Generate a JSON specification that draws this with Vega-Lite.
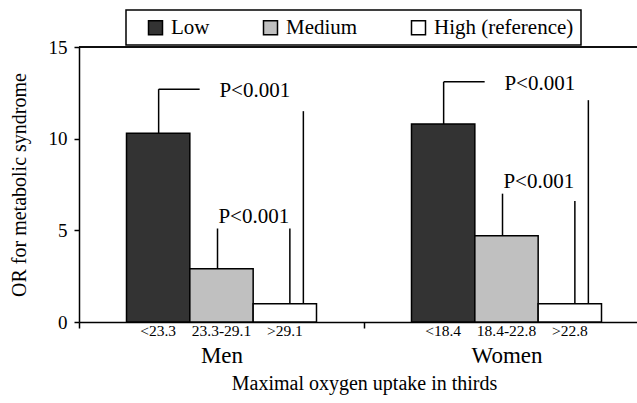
{
  "$schema": "https://vega.github.io/schema/vega-lite/v6.json",
  "width": 558,
  "height": 275,
  "autosize": {"type": "none"},
  "padding": {"left": 79, "top": 47, "right": 0, "bottom": 81},
  "background": "white",
  "config": {
    "font": "Liberation Serif",
    "view": {"stroke": null},
    "axis": {
      "domainColor": "black", "tickColor": "black", "labelColor": "black", "titleColor": "black",
      "domainWidth": 1.5, "tickWidth": 1.5, "grid": false, "titleFontWeight": "normal",
      "labelFont": "Liberation Serif", "titleFont": "Liberation Serif"
    },
    "legend": {
      "orient": "none", "legendX": 47, "legendY": -37, "direction": "horizontal",
      "titleOrient": "left", "titleFontSize": 1, "titlePadding": 12,
      "symbolType": "square", "symbolSize": 196, "symbolStrokeColor": "black", "symbolStrokeWidth": 1.5,
      "labelFont": "Liberation Serif", "labelFontSize": 21, "labelColor": "black", "labelOffset": 5,
      "columnPadding": 50, "strokeColor": "black", "strokeWidth": 1.5, "fillColor": "white", "padding": 7
    }
  },
  "datasets": {
    "bars": [
      {"sex": "Men", "level": "Low", "label": "<23.3", "or": 10.3, "upper": 12.7},
      {"sex": "Men", "level": "Medium", "label": "23.3-29.1", "or": 2.9, "upper": 5.1},
      {"sex": "Men", "level": "High", "label": ">29.1", "or": 1.0, "upper": null},
      {"sex": "Women", "level": "Low", "label": "<18.4", "or": 10.8, "upper": 13.1},
      {"sex": "Women", "level": "Medium", "label": "18.4-22.8", "or": 4.7, "upper": 7.0},
      {"sex": "Women", "level": "High", "label": ">22.8", "or": 1.0, "upper": null}
    ],
    "tests": [
      {"sex": "Men", "comparison": "Low vs High", "left": "Low", "right": "High", "left_top": 12.7, "right_top": 11.5, "ref_or": 1, "p": "P<0.001"},
      {"sex": "Men", "comparison": "Medium vs High", "left": "Medium", "right": "High", "left_top": 5.1, "right_top": 5.1, "ref_or": 1, "p": "P<0.001"},
      {"sex": "Women", "comparison": "Low vs High", "left": "Low", "right": "High", "left_top": 13.1, "right_top": 12.1, "ref_or": 1, "p": "P<0.001"},
      {"sex": "Women", "comparison": "Medium vs High", "left": "Medium", "right": "High", "left_top": 7.0, "right_top": 6.6, "ref_or": 1, "p": "P<0.001"}
    ]
  },
  "resolve": {"scale": {"xOffset": "independent"}},
  "layer": [
    {
      "data": {"name": "bars"},
      "mark": {"type": "bar", "stroke": "black", "strokeWidth": 1.5},
      "encoding": {
        "x": {
          "field": "sex", "type": "nominal",
          "scale": {"domain": ["Men", "Women"], "range": [0, 570], "paddingInner": 0, "paddingOuter": 0},
          "axis": {
            "title": "Maximal oxygen uptake in thirds", "titleFontSize": 20, "titlePadding": 6,
            "labelFontSize": 23, "labelPadding": 16, "tickSize": 6, "tickBand": "extent", "labelAngle": 0
          }
        },
        "xOffset": {
          "field": "level", "type": "nominal",
          "scale": {"type": "band", "domain": ["Low", "Medium", "High"], "paddingInner": 0, "paddingOuter": 0.75}
        },
        "y": {
          "field": "or", "type": "quantitative",
          "scale": {"domain": [0, 15], "nice": false},
          "axis": {
            "values": [0, 5, 10, 15], "tickSize": 5, "labelFontSize": 19, "labelPadding": 7,
            "title": "OR for metabolic syndrome", "titleFontSize": 20, "titlePadding": 19
          }
        },
        "fill": {
          "field": "level", "type": "nominal",
          "scale": {"domain": ["Low", "Medium", "High"], "range": ["#333333", "#c0c0c0", "#ffffff"]},
          "legend": {"title": " ", "labelExpr": "datum.label === 'High' ? 'High (reference)' : datum.label"}
        }
      }
    },
    {
      "data": {"name": "bars"},
      "transform": [{"filter": "datum.level === 'Low'"}],
      "mark": {"type": "rule", "color": "black", "strokeWidth": 1.5},
      "encoding": {
        "y": {"datum": 15, "type": "quantitative"}
      }
    },
    {
      "data": {"name": "bars"},
      "transform": [{"filter": "datum.level === 'Low'"}],
      "mark": {"type": "rule", "color": "black", "strokeWidth": 1.5},
      "encoding": {
        "x": {"field": "sex", "type": "nominal"},
        "xOffset": {"field": "level", "type": "nominal", "scale": {"type": "band", "domain": ["Low", "Medium", "High"], "paddingInner": 0, "paddingOuter": 0.75, "align": 0.505}},
        "y": {"field": "or", "type": "quantitative"},
        "y2": {"field": "upper"}
      }
    },
    {
      "data": {"name": "bars"},
      "transform": [{"filter": "datum.level === 'Medium'"}],
      "mark": {"type": "rule", "color": "black", "strokeWidth": 1.5},
      "encoding": {
        "x": {"field": "sex", "type": "nominal"},
        "xOffset": {"field": "level", "type": "nominal", "scale": {"type": "band", "domain": ["Low", "Medium", "High"], "paddingInner": 0, "paddingOuter": 0.75, "align": 0.458}},
        "y": {"field": "or", "type": "quantitative"},
        "y2": {"field": "upper"}
      }
    },
    {
      "data": {"name": "tests"},
      "transform": [{"filter": "datum.comparison === 'Low vs High'"}],
      "mark": {"type": "tick", "color": "black", "thickness": 1.5, "size": 41, "opacity": 1},
      "encoding": {
        "x": {"field": "sex", "type": "nominal"},
        "xOffset": {"field": "left", "type": "nominal", "scale": {"type": "band", "domain": ["Low", "Medium", "High"], "paddingInner": 0, "paddingOuter": 0.75, "align": 0.721}},
        "y": {"field": "left_top", "type": "quantitative"}
      }
    },
    {
      "data": {"name": "tests"},
      "transform": [{"filter": "datum.comparison === 'Low vs High'"}],
      "mark": {"type": "rule", "color": "black", "strokeWidth": 1.5},
      "encoding": {
        "x": {"field": "sex", "type": "nominal"},
        "xOffset": {"field": "right", "type": "nominal", "scale": {"type": "band", "domain": ["Low", "Medium", "High"], "paddingInner": 0, "paddingOuter": 0.75, "align": 0.695}},
        "y": {"field": "ref_or", "type": "quantitative"},
        "y2": {"field": "right_top"}
      }
    },
    {
      "data": {"name": "tests"},
      "transform": [{"filter": "datum.comparison === 'Medium vs High'"}],
      "mark": {"type": "rule", "color": "black", "strokeWidth": 1.5},
      "encoding": {
        "x": {"field": "sex", "type": "nominal"},
        "xOffset": {"field": "right", "type": "nominal", "scale": {"type": "band", "domain": ["Low", "Medium", "High"], "paddingInner": 0, "paddingOuter": 0.75, "align": 0.553}},
        "y": {"field": "ref_or", "type": "quantitative"},
        "y2": {"field": "right_top"}
      }
    },
    {
      "data": {"name": "tests"},
      "transform": [{"filter": "datum.comparison === 'Low vs High'"}],
      "mark": {"type": "text", "fontSize": 21, "color": "black", "baseline": "middle", "dx": -30, "dy": 2},
      "encoding": {
        "x": {"field": "sex", "type": "nominal"},
        "xOffset": {"field": "right", "type": "nominal", "scale": {"type": "band", "domain": ["Low", "Medium", "High"], "paddingInner": 0, "paddingOuter": 0.75}},
        "y": {"field": "left_top", "type": "quantitative"},
        "text": {"field": "p"}
      }
    },
    {
      "data": {"name": "tests"},
      "transform": [{"filter": "datum.comparison === 'Medium vs High'"}],
      "mark": {"type": "text", "fontSize": 21, "color": "black", "baseline": "bottom", "dx": -31, "dy": -2},
      "encoding": {
        "x": {"field": "sex", "type": "nominal"},
        "xOffset": {"field": "right", "type": "nominal", "scale": {"type": "band", "domain": ["Low", "Medium", "High"], "paddingInner": 0, "paddingOuter": 0.75}},
        "y": {"field": "left_top", "type": "quantitative"},
        "text": {"field": "p"}
      }
    },
    {
      "data": {"name": "bars"},
      "mark": {"type": "text", "fontSize": 15.5, "color": "black", "baseline": "top", "dy": 2},
      "encoding": {
        "x": {"field": "sex", "type": "nominal"},
        "xOffset": {"field": "level", "type": "nominal", "scale": {"type": "band", "domain": ["Low", "Medium", "High"], "paddingInner": 0, "paddingOuter": 0.75}},
        "y": {"datum": 0, "type": "quantitative"},
        "text": {"field": "label"}
      }
    }
  ]
}
